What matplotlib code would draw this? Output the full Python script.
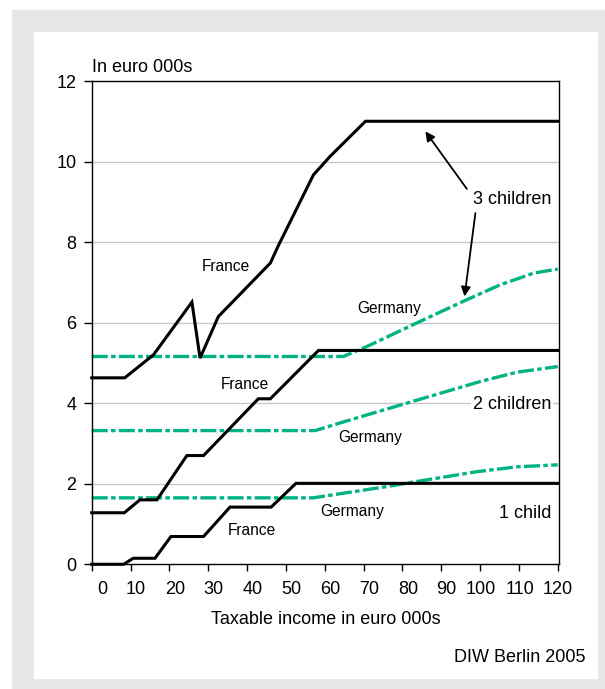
import matplotlib

matplotlib.use("Agg")
import matplotlib.pyplot as plt
from matplotlib.patches import Rectangle
from matplotlib.transforms import ScaledTranslation

plt.rcParams["font.family"] = ["Liberation Sans", "DejaVu Sans"]

# France (solid black) -- child benefit in euro 000s by taxable income
income_fr3 = [0, 8.5, 15.9, 25.8, 27.9, 32.6, 46.0, 48.0, 57.1, 61.4, 70.5, 120]
benefit_fr3 = [4.63, 4.63, 5.20, 6.51, 5.12, 6.15, 7.48, 7.90, 9.67, 10.13, 11.0, 11.0]
income_fr2 = [0, 8.4, 12.4, 16.8, 24.5, 28.8, 42.9, 46.0, 58.4, 120]
benefit_fr2 = [1.28, 1.28, 1.60, 1.60, 2.70, 2.70, 4.11, 4.11, 5.31, 5.31]
income_fr1 = [0, 8.2, 10.7, 16.3, 20.4, 28.8, 35.6, 46.2, 52.6, 120]
benefit_fr1 = [0, 0, 0.15, 0.15, 0.69, 0.69, 1.42, 1.42, 2.01, 2.01]

# Germany (green dash-dot)
income_de3 = [0, 64.8, 70.9, 86.3, 96.6, 105.2, 113.8, 120]
benefit_de3 = [5.16, 5.16, 5.41, 6.11, 6.57, 6.94, 7.23, 7.33]
income_de2 = [0, 57.5, 67.4, 84.6, 100.1, 109.5, 120]
benefit_de2 = [3.32, 3.32, 3.61, 4.10, 4.54, 4.77, 4.91]
income_de1 = [0, 57.0, 76.0, 84.6, 99.2, 109.5, 120]
benefit_de1 = [1.65, 1.65, 1.93, 2.07, 2.30, 2.42, 2.47]

x_ticks = list(range(0, 121, 10))
y_ticks = [0, 2, 4, 6, 8, 10, 12]

GREEN = "#00b383"
W, H = 605, 689

fig = plt.figure(figsize=(W / 100, H / 100), dpi=100)

# grey frame with white panel
fig.patches.append(Rectangle((12 / W, 0), 1 - 12 / W, 1 - 10 / H,
                             transform=fig.transFigure, color="#e6e6e6", zorder=-10))
fig.patches.append(Rectangle((34 / W, 11 / H), (597 - 34) / W, (678 - 32) / H,
                             transform=fig.transFigure, color="white", zorder=-9))

ax = fig.add_axes([91.7 / W, 1 - 564.3 / H, (559.3 - 91.7) / W, (564.3 - 81) / H])
ax.set_xlim(0, 120.4)
ax.set_ylim(0, 12)

for y in y_ticks[1:-1]:
    ax.axhline(y, color="#c8c8c8", lw=1.0, zorder=0)

dash = (0, (4.8, 1.0, 1.35, 1.0))
for xs, ys in [(income_de3, benefit_de3), (income_de2, benefit_de2), (income_de1, benefit_de1)]:
    ax.plot(xs, ys, color=GREEN, lw=2.4, linestyle=dash, zorder=2, clip_on=False)
for xs, ys in [(income_fr3, benefit_fr3), (income_fr2, benefit_fr2), (income_fr1, benefit_fr1)]:
    ax.plot(xs, ys, color="black", lw=2.2, zorder=3, clip_on=False,
            solid_joinstyle="miter")

for s in ax.spines.values():
    s.set_linewidth(1.0)
    s.set_color("black")

ax.set_xticks(x_ticks)
ax.set_xticklabels([str(v) for v in x_ticks])
ax.set_yticks(y_ticks)
ax.set_yticklabels([str(v) for v in y_ticks])
ax.tick_params(axis="x", direction="out", length=5.2, width=1, pad=6.5, labelsize=13)
ax.tick_params(axis="y", direction="out", length=6, width=1, pad=5, labelsize=13)
offset = ScaledTranslation(0.155, 0, fig.dpi_scale_trans)
for lab in ax.get_xticklabels():
    lab.set_ha("right")
    lab.set_transform(lab.get_transform() + offset)

# series labels
ax.text(34.5, 7.39, "France", fontsize=11.2, ha="center", va="center")
ax.text(39.5, 4.47, "France", fontsize=11.2, ha="center", va="center")
ax.text(41.2, 0.83, "France", fontsize=11.2, ha="center", va="center")
ax.text(76.5, 6.34, "Germany", fontsize=11.2, ha="center", va="center")
ax.text(71.7, 3.16, "Germany", fontsize=11.2, ha="center", va="center")
ax.text(67.0, 1.31, "Germany", fontsize=11.2, ha="center", va="center")

ax.text(118.3, 9.07, "3 children", fontsize=13, ha="right", va="center")
ax.text(118.3, 3.96, "2 children", fontsize=13, ha="right", va="center",
        bbox=dict(facecolor="white", edgecolor="none", pad=1))
ax.text(118.3, 1.25, "1 child", fontsize=13, ha="right", va="center")

arrow = dict(arrowstyle="-|>", lw=1.3, color="black", shrinkA=0, shrinkB=0,
             mutation_scale=14)
ax.annotate("", xy=(85.9, 10.75), xytext=(96.6, 9.32), arrowprops=arrow)
ax.annotate("", xy=(96.0, 6.65), xytext=(98.8, 8.72), arrowprops=arrow)

fig.text(92 / W, 1 - 67 / H, "In euro 000s", fontsize=13, ha="left", va="center")
fig.text(325.5 / W, 1 - 620 / H, "Taxable income in euro 000s", fontsize=13,
         ha="center", va="center")
fig.text(586 / W, 1 - 657 / H, "DIW Berlin 2005", fontsize=13, ha="right", va="center")

fig.savefig("out.png", dpi=100)
